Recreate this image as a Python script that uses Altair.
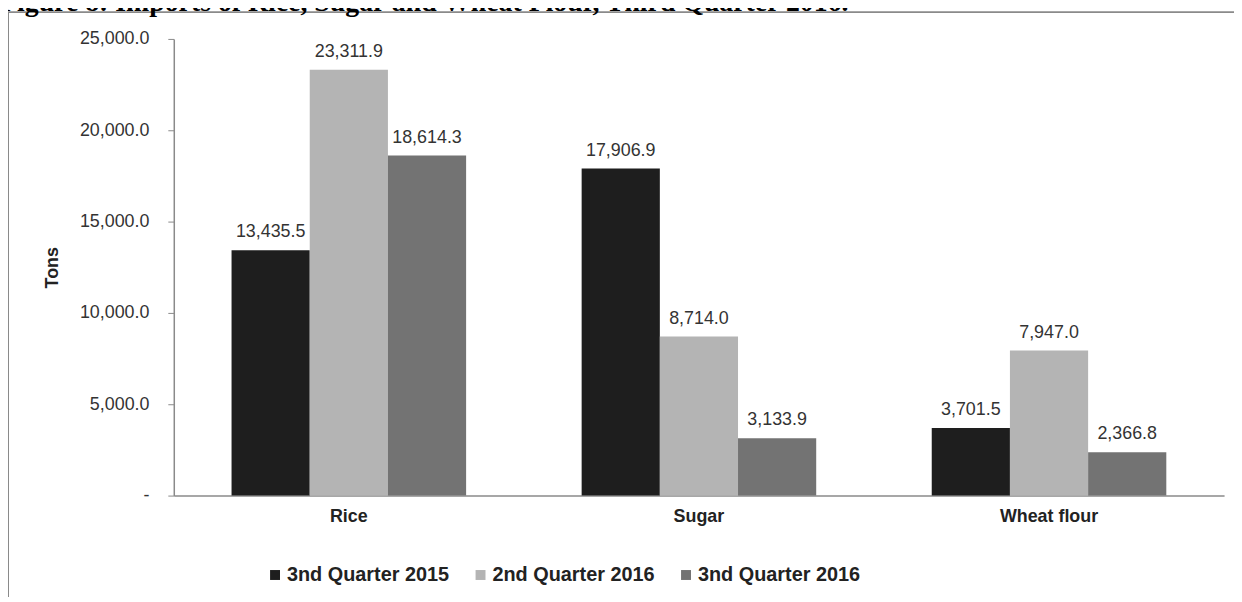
import altair as alt
import pandas as pd

categories = ["Rice", "Sugar", "Wheat flour"]
series = ["3nd Quarter 2015", "2nd Quarter 2016", "3nd Quarter 2016"]
q3_2015 = [13435.5, 17906.9, 3701.5]
q2_2016 = [23311.9, 8714.0, 7947.0]
q3_2016 = [18614.3, 3133.9, 2366.8]
y_ticks = [0, 5000, 10000, 15000, 20000, 25000]
colors = ["#1e1e1e", "#b4b4b4", "#737373"]
title_text = "Figure 8: Imports of Rice, Sugar and Wheat Flour, Third Quarter 2016."

rows = []
for i, c in enumerate(categories):
    for s, vals in zip(series, [q3_2015, q2_2016, q3_2016]):
        rows.append({"category": c, "series": s, "tons": vals[i]})
df = pd.DataFrame(rows)

W, H = 1058, 460
FONT = "Liberation Sans"

x = alt.X(
    "category:N", sort=categories,
    scale=alt.Scale(paddingInner=0.33, paddingOuter=0.165),
    axis=alt.Axis(title=None, labelFontWeight="bold", labelFontSize=18, labelColor="#222",
                  labelPadding=12, ticks=False, domainColor="#8a8a8a", domainWidth=1.5,
                  labelAngle=0),
)
xoff = alt.XOffset("series:N", sort=series, scale=alt.Scale(paddingInner=0, paddingOuter=0))
y = alt.Y(
    "tons:Q", scale=alt.Scale(domain=[0, 25000], nice=False),
    axis=alt.Axis(title="Tons", values=y_ticks,
                  labelExpr="datum.value == 0 ? '-' : format(datum.value, ',.1f')",
                  grid=False, labelFontSize=18, labelColor="#333", labelPadding=19,
                  tickSize=6, tickColor="#8a8a8a", domainColor="#8a8a8a", domainWidth=1.5,
                  titleFontSize=18, titleFontWeight="bold", titleColor="#222", titlePadding=18),
)
color = alt.Color(
    "series:N", sort=series,
    scale=alt.Scale(domain=series, range=colors),
    legend=alt.Legend(orient="none", legendX=92, legendY=530, direction="horizontal",
                      columns=3, columnPadding=21, symbolType="square", symbolSize=100,
                      symbolStrokeWidth=0, labelFontSize=20, labelFontWeight="bold",
                      labelColor="#222", labelOffset=2, labelLimit=0, title=None, padding=0),
)

base = alt.Chart(df)
bars = base.mark_bar().encode(x=x, xOffset=xoff, y=y, color=color)
labels = base.mark_text(baseline="alphabetic", dy=-13, fontSize=18, color="#333").encode(
    x=x, xOffset=xoff, y=y, text=alt.Text("tons:Q", format=",.1f")
)

one = pd.DataFrame({"t": [title_text]})
border = alt.Chart(one).mark_rect(fill="transparent", stroke="#8a8a8a", strokeWidth=2).encode(
    x=alt.value(-167), x2=alt.value(W + 60), y=alt.value(-27), y2=alt.value(H + 300)
)
title = alt.Chart(one).mark_text(
    align="left", baseline="alphabetic", fontSize=28, fontWeight="bold",
    font="Liberation Serif", color="#000"
).encode(x=alt.value(-175), y=alt.value(-28), text="t:N")

chart = alt.layer(border, title, bars, labels).properties(
    width=W, height=H,
    autosize=alt.AutoSizeParams(type="none"),
    padding={"left": 167, "top": 29, "right": 10, "bottom": 100},
).configure(font=FONT).configure_view(stroke=None)

chart.save("out.html", embed_options={"renderer": "svg", "actions": False})
